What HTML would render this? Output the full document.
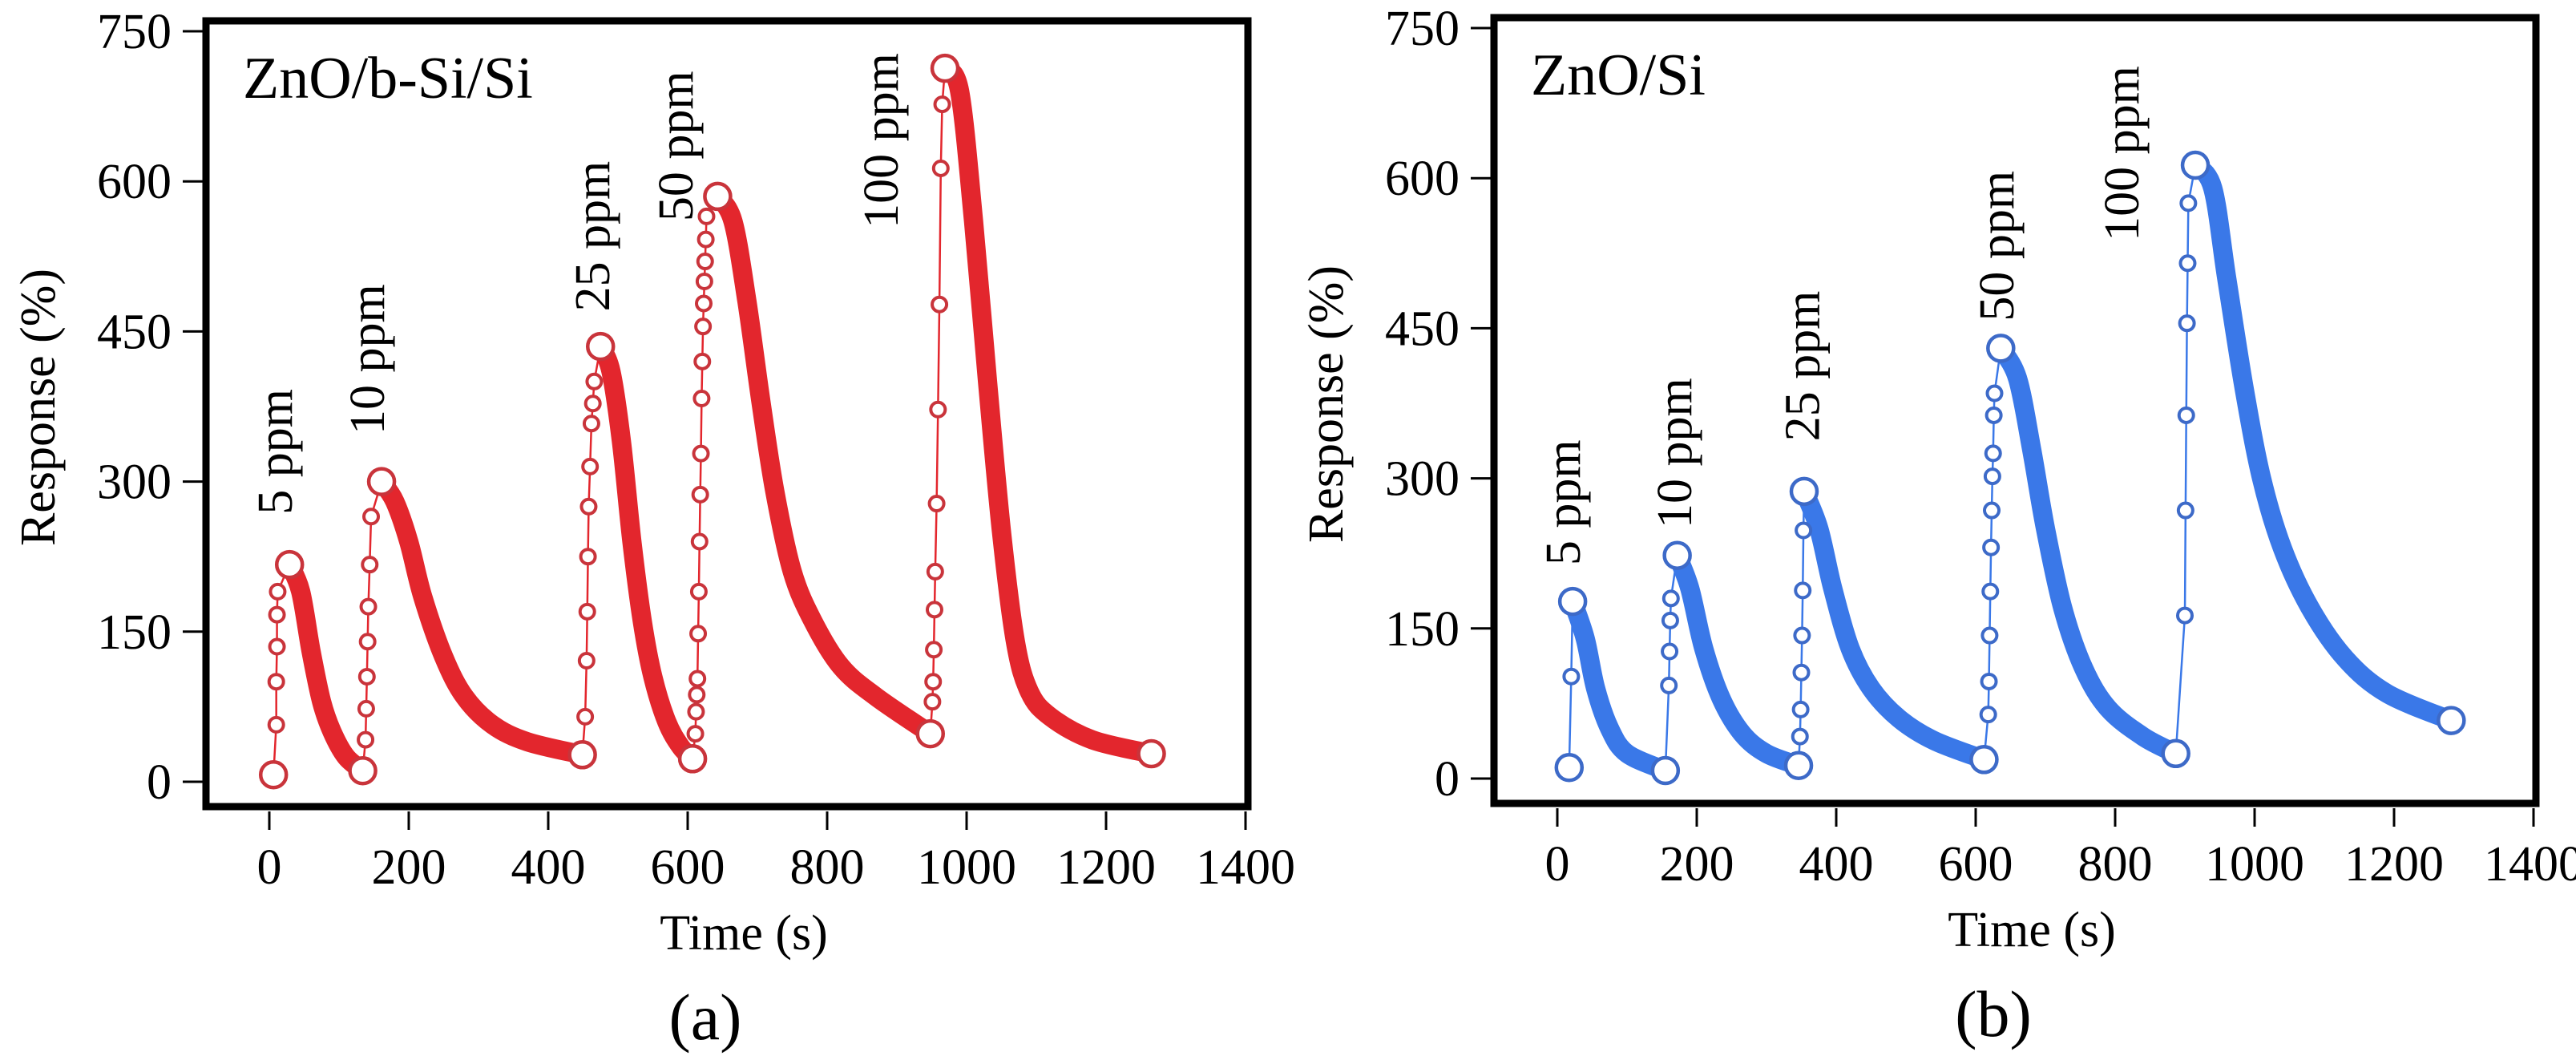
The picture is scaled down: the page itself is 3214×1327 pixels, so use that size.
<!DOCTYPE html>
<html><head><meta charset="utf-8"><style>
html,body{margin:0;padding:0;background:#fff;}
svg{display:block;font-family:"Liberation Serif",serif;}
</style></head><body>
<svg id="fig" width="3214" height="1327" viewBox="0 0 3214 1327">
<g id="pa"></g>
<g id="pb"></g>
</svg>
<script>
// ---- data panel (a) ----
const xTicks = [0,200,400,600,800,1000,1200,1400];
const yTicks = [0,150,300,450,600,750];
const aStartT = [6,134,449,607,948];
const aStartV = [7,11,27,23,48];
const aRiseT = [[10,10,11,11,12],[138,139,140,141,142,144,146],[453,455,456,457,458,460,462,464,466],[611,612,613,614,615,616,617,618,619,620,621,622,623,624,625,626,627],[951,952,953,954,955,957,959,961,963,965]];
const aRiseV = [[57,100,135,167,190],[42,73,105,140,175,217,265],[65,121,170,225,275,315,358,378,400],[48,70,87,103,148,190,240,287,328,383,420,455,478,500,520,542,565],[80,100,132,172,210,278,372,477,613,677]];
const aPeakT = [29,161,475,643,969];
const aPeakV = [217,300,435,585,713];
const aDecayT = [[45,60,75,90,110,134],[180,200,220,250,280,320,370,449],[490,505,520,535,550,570,590,607],[665,685,705,725,750,780,820,870,948],[990,1010,1030,1050,1070,1090,1120,1180,1265]];
const aDecayV = [[190,130,80,50,25,11],[280,240,185,125,85,57,40,27],[410,340,240,160,105,60,35,23],[560,480,380,290,210,160,115,85,48],[690,560,400,250,140,90,65,42,28]];
const aLabels = ["5 ppm","10 ppm","25 ppm","50 ppm","100 ppm"];
const aLabT = [8,140,463,583,877];
const aLabV = [267,347,470,560,553];
// ---- data panel (b) ----
const bStartT = [17,155,346,612,887];
const bStartV = [11,8,13,19,25];
const bRiseT = [[20],[160,161,162,163],[348,349,350,351,352,353],[618,619,620,621,622,623,624,625,626,627],[900,901,902,903,904,905]];
const bRiseV = [[102],[93,127,158,180],[42,69,106,143,188,248],[64,97,143,187,231,268,302,325,363,385],[163,268,363,455,515,575]];
const bPeakT = [22,172,354,636,915];
const bPeakV = [177,223,287,430,613];
const bDecayT = [[40,55,75,100,155],[190,210,235,265,300,346],[375,395,420,450,490,540,612],[660,680,700,725,755,790,840,887],[940,960,985,1010,1040,1080,1130,1190,1282]];
const bDecayV = [[140,90,50,25,8],[190,130,80,45,25,13],[250,190,130,90,60,38,19],[400,330,250,170,110,70,42,25],[590,500,390,300,230,170,120,85,58]];
const bLabels = ["5 ppm","10 ppm","25 ppm","50 ppm","100 ppm"];
const bLabT = [8,168,351,630,809];
const bLabV = [213,250,337,457,537];

const NS="http://www.w3.org/2000/svg";
function mk(parent,tag,attrs){const e=document.createElementNS(NS,tag);for(const k in attrs)e.setAttribute(k,attrs[k]);parent.appendChild(e);return e;}
function smooth(pts){let d="M"+pts[0][0]+","+pts[0][1];for(let i=0;i<pts.length-1;i++){const p0=pts[Math.max(0,i-1)],p1=pts[i],p2=pts[i+1],p3=pts[Math.min(pts.length-1,i+2)];const c1=[p1[0]+(p2[0]-p0[0])/6,p1[1]+(p2[1]-p0[1])/6],c2=[p2[0]-(p3[0]-p1[0])/6,p2[1]-(p3[1]-p1[1])/6];d+=" C"+c1+" "+c2+" "+p2;}return d;}

function panel(g,ox,oy,P){
  const L=ox+257,R=ox+1557,T=oy+26,B=oy+1006;
  const X=t=>ox+336+t*0.87, Y=v=>oy+975-v*1.248;
  xTicks.forEach(t=>{
    const tk=mk(g,"line",{x1:X(t),x2:X(t),y1:B+6,y2:B+29,stroke:"#000","stroke-width":3});
    
    
    const tl=mk(g,"text",{x:X(t),y:oy+1102,"font-size":62,"text-anchor":"middle"});tl.textContent=t;
    
    
  });
  yTicks.forEach(v=>{
    const tk=mk(g,"line",{x1:L-29,x2:L,y1:Y(v),y2:Y(v),stroke:"#000","stroke-width":3});
    
    
    const tl=mk(g,"text",{x:ox+214,y:Y(v)+21,"font-size":62,"text-anchor":"end"});tl.textContent=v;
    
    
  });
  const fr=mk(g,"rect",{x:L,y:T,width:R-L,height:B-T,fill:"none",stroke:"#000","stroke-width":9});
  
  
  const yt=mk(g,"text",{transform:`translate(${ox+68},${oy+508}) rotate(-90)`,"font-size":62,"text-anchor":"middle"});yt.textContent="Response (%)";
  
  
  const xt=mk(g,"text",{x:ox+928,y:oy+1184,"font-size":62,"text-anchor":"middle"});xt.textContent="Time (s)";
  
  
  const pl=mk(g,"text",{x:ox+880,y:oy+1296,"font-size":82,"text-anchor":"middle"});pl.textContent=P.tag;
  
  
  const st=mk(g,"text",{x:ox+303,y:oy+122,"font-size":74});st.textContent=P.title;
  
  
  for(let i=0;i<P.sT.length;i++){
    const rise=[[P.sT[i],P.sV[i]]].concat(P.rT[i].map((t,j)=>[t,P.rV[i][j]])).concat([[P.pT[i],P.pV[i]]]);
    const rl=mk(g,"polyline",{points:rise.map(p=>X(p[0])+","+Y(p[1])).join(" "),fill:"none",stroke:P.col,"stroke-width":2.5});
    
    
    const dec=[[P.pT[i],P.pV[i]]].concat(P.dT[i].map((t,j)=>[t,P.dV[i][j]])).map(p=>[X(p[0]),Y(p[1])]);
    const dp=mk(g,"path",{d:smooth(dec),fill:"none",stroke:P.col,"stroke-width":24,"stroke-linecap":"round"});
    
    
    P.rT[i].forEach((t,j)=>{
      const c=mk(g,"circle",{cx:X(t),cy:Y(P.rV[i][j]),r:9,fill:"#fff",stroke:P.dark,"stroke-width":4});
      
      
    });
    [[P.sT[i],P.sV[i]],[P.pT[i],P.pV[i]]].forEach(p=>{
      const c=mk(g,"circle",{cx:X(p[0]),cy:Y(p[1]),r:16,fill:"#fff",stroke:P.dark,"stroke-width":4.5});
      
      
    });
    const lb=mk(g,"text",{transform:`translate(${X(P.lT[i])+21},${Y(P.lV[i])}) rotate(-90)`,"font-size":62});lb.textContent=P.lab[i];
    
    
  }
  const lastI=P.dT.length-1, lt=P.dT[lastI][P.dT[lastI].length-1], lv=P.dV[lastI][P.dV[lastI].length-1];
  const ec=mk(g,"circle",{cx:X(lt),cy:Y(lv),r:16,fill:"#fff",stroke:P.dark,"stroke-width":4.5});
  
  
}
panel(document.getElementById("pa"),0,0,{tag:"(a)",title:"ZnO/b-Si/Si",col:"#e3262d",dark:"#c9343b",sT:aStartT,sV:aStartV,rT:aRiseT,rV:aRiseV,pT:aPeakT,pV:aPeakV,dT:aDecayT,dV:aDecayV,lab:aLabels,lT:aLabT,lV:aLabV});
panel(document.getElementById("pb"),1607,-4,{tag:"(b)",title:"ZnO/Si",col:"#3a78e8",dark:"#3d6ac8",sT:bStartT,sV:bStartV,rT:bRiseT,rV:bRiseV,pT:bPeakT,pV:bPeakV,dT:bDecayT,dV:bDecayV,lab:bLabels,lT:bLabT,lV:bLabV});
</script>
</body></html>
